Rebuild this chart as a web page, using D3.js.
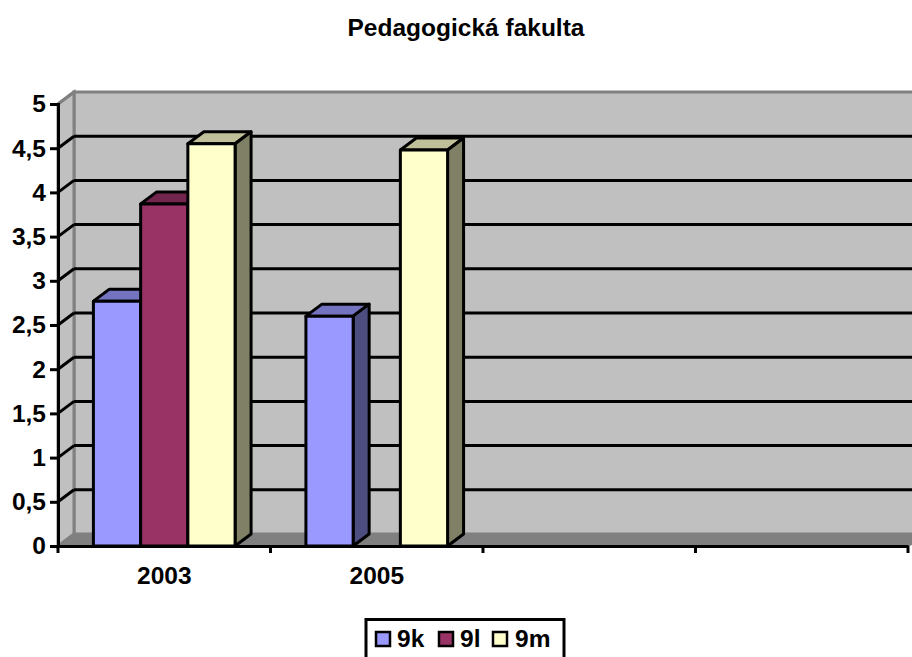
<!DOCTYPE html>
<html>

<head>
    <title>Pedagogická fakulta</title>
    <script src="https://cdnjs.cloudflare.com/ajax/libs/d3/7.8.5/d3.min.js"></script>
    <style>
        html, body { margin: 0; padding: 0; background: #fff; overflow: hidden; }
        svg { display: block; }
        text { font-family: "Liberation Sans", Arial, sans-serif; font-weight: bold; fill: #000; }
    </style>
</head>

<body>
    <div id="chart"></div>

    <script>
        // values, null = no bar
        var categories = ["2003", "2005", "", " "];
        var seriesNames = ["9k", "9l", "9m"];
        var seriesColors = ["#9999ff", "#993366", "#ffffcc"];
        var values9k = [2.77, 2.6, null, null];
        var values9l = [3.87, null, null, null];
        var values9m = [4.55, 4.48, null, null];
        var yTicks = [0, 0.5, 1, 1.5, 2, 2.5, 3, 3.5, 4, 4.5, 5];

        var allSeries = [values9k, values9l, values9m];

        var width = 912;
        var height = 657;
        var left = 58;
        var right = 908;
        var bottom = 546;
        var top5 = 104;
        var dx = 16;   // depth of the 3d box
        var dy = 12;
        var fontSize = "24.5px";

        var svg = d3.select("#chart").append("svg")
            .attr("width", width)
            .attr("height", height);

        var x = d3.scaleBand().domain(categories).range([left, right]);
        var y = d3.scaleLinear().domain([0, 5]).range([bottom, top5]);
        var inner = d3.scaleBand().domain(d3.range(seriesNames.length))
            .range([0, x.step() * 2 / 3]);
        var groupPad = x.step() / 6;

        function pts(list) {
            return list.map(function (p) { return p.join(","); }).join(" ");
        }

        svg.append("text")
            .attr("x", 466)
            .attr("y", 36)
            .attr("text-anchor", "middle")
            .style("font-size", fontSize)
            .text("Pedagogická fakulta");

        // back wall, side wall, floor
        svg.append("rect")
            .attr("x", left + dx)
            .attr("y", top5 - dy)
            .attr("width", width)
            .attr("height", bottom - top5)
            .attr("fill", "#c0c0c0")
            .attr("stroke", "#808080")
            .attr("stroke-width", 3);

        svg.append("polygon")
            .attr("points", pts([[left, top5], [left + dx, top5 - dy], [left + dx, bottom - dy], [left, bottom]]))
            .attr("fill", "#c0c0c0")
            .attr("stroke", "#808080")
            .attr("stroke-width", 3);

        svg.append("polygon")
            .attr("points", pts([[left, bottom], [left + dx, bottom - dy], [width + 30, bottom - dy], [right, bottom]]))
            .attr("fill", "#808080")
            .attr("stroke", "#808080")
            .attr("stroke-width", 1);

        // grid lines, skipping the one at 0 and the top edge
        yTicks.forEach(function (t) {
            if (t > 0 && t < 5) {
                svg.append("line")
                    .attr("x1", left + dx)
                    .attr("x2", width)
                    .attr("y1", y(t) - dy)
                    .attr("y2", y(t) - dy)
                    .attr("stroke", "#000")
                    .attr("stroke-width", 3);
            }
            if (t > 0) {
                svg.append("line")
                    .attr("x1", left)
                    .attr("x2", left + dx)
                    .attr("y1", y(t))
                    .attr("y2", y(t) - dy)
                    .attr("stroke", t < 5 ? "#000" : "#808080")
                    .attr("stroke-width", 3);
            }
        });

        // bars
        allSeries.forEach(function (values, s) {
            var base = d3.color(seriesColors[s]);
            values.forEach(function (v, i) {
                if (v === null) return;
                var x0 = x(categories[i]) + groupPad + inner(s);
                var x1 = x0 + inner.bandwidth();
                var yt = y(v);
                var g = svg.append("g")
                    .attr("stroke", "#000")
                    .attr("stroke-width", 3)
                    .attr("stroke-linejoin", "round");

                g.append("polygon")
                    .attr("points", pts([[x0, yt], [x0 + dx, yt - dy], [x1 + dx, yt - dy], [x1, yt]]))
                    .attr("fill", d3.rgb(base.r * 0.75, base.g * 0.75, base.b * 0.75));
                g.append("polygon")
                    .attr("points", pts([[x1, yt], [x1 + dx, yt - dy], [x1 + dx, bottom - dy], [x1, bottom]]))
                    .attr("fill", d3.rgb(base.r * 0.5, base.g * 0.5, base.b * 0.5));
                g.append("rect")
                    .attr("x", x0)
                    .attr("y", yt)
                    .attr("width", x1 - x0)
                    .attr("height", bottom - yt)
                    .attr("fill", seriesColors[s]);
            });
        });

        // axes
        var yAxis = svg.append("g")
            .attr("transform", "translate(" + left + ",0)")
            .call(d3.axisLeft(y)
                .tickValues(yTicks)
                .tickSize(8)
                .tickPadding(4)
                .tickFormat(function (d) { return String(d).replace(".", ","); }));
        yAxis.selectAll("text").style("font-size", fontSize);
        yAxis.selectAll("line").attr("stroke", "#000").attr("stroke-width", 3);
        yAxis.select(".domain").attr("stroke", "#000").attr("stroke-width", 3);

        var xAxis = svg.append("g")
            .attr("transform", "translate(0," + bottom + ")")
            .call(d3.axisBottom(x).tickSize(0).tickPadding(21));
        xAxis.selectAll("text").style("font-size", fontSize);
        xAxis.select(".domain").attr("stroke", "#000").attr("stroke-width", 3);

        // ticks sit on the band edges, not the band centres
        categories.concat([null]).forEach(function (c, i) {
            var px = left + i * x.step();
            svg.append("line")
                .attr("x1", px)
                .attr("x2", px)
                .attr("y1", bottom)
                .attr("y2", bottom + 7)
                .attr("stroke", "#000")
                .attr("stroke-width", 3);
        });

        // legend
        var legend = svg.append("g");
        legend.append("rect")
            .attr("x", 366)
            .attr("y", 619.5)
            .attr("width", 198)
            .attr("height", 60)
            .attr("fill", "#fff")
            .attr("stroke", "#000")
            .attr("stroke-width", 3);

        var legendSwatchX = [376, 439, 493];
        var legendTextX = [397, 460, 515];
        seriesNames.forEach(function (name, s) {
            legend.append("rect")
                .attr("x", legendSwatchX[s])
                .attr("y", 632)
                .attr("width", 14)
                .attr("height", 14)
                .attr("fill", seriesColors[s])
                .attr("stroke", "#000")
                .attr("stroke-width", 2.5);
            legend.append("text")
                .attr("x", legendTextX[s])
                .attr("y", 647)
                .style("font-size", fontSize)
                .text(name);
        });
    </script>

</body>

</html>
